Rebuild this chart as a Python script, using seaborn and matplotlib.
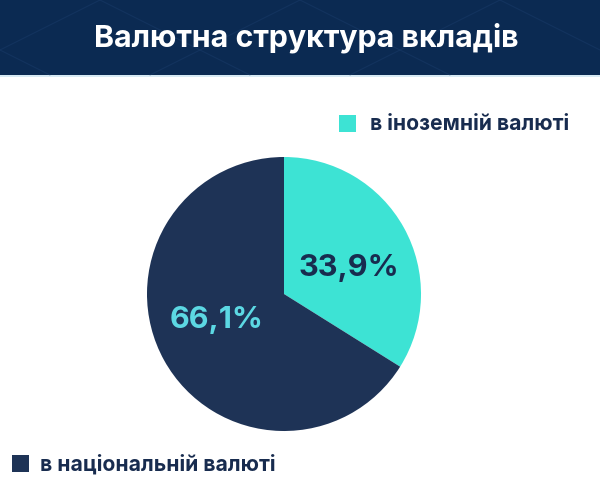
import matplotlib
matplotlib.use("Agg")
import matplotlib.pyplot as plt
import seaborn as sns
from matplotlib.patches import Rectangle
from matplotlib.lines import Line2D

sns.set_theme(style="white")
plt.rcParams['font.family'] = ['Inter', 'DejaVu Sans']

title = "Валютна структура вкладів"
categories = ["в іноземній валюті", "в національній валюті"]
values = [33.9, 66.1]
value_labels = ["33,9%", "66,1%"]
slice_colors = ["#3de3d4", "#1e3356"]
label_colors = ["#182c4f", "#5cd8e3"]

W, H = 600, 503
fig = plt.figure(figsize=(W / 100, H / 100), dpi=100)
fig.patch.set_facecolor("white")

def fx(x):
    return x / W

def fy(y):
    return 1 - y / H

# header band
fig.patches.append(Rectangle((0, fy(75)), 1, 75 / H, transform=fig.transFigure,
                             facecolor="#0b2a52", edgecolor="none", zorder=0))
fig.lines.append(Line2D([0, 1], [fy(75.5), fy(75.5)], transform=fig.transFigure,
                        color="#cfe6f2", lw=1.2, zorder=1))
# faint pattern in header
for x0 in range(-100, 700, 200):
    for sgn in (1, -1):
        fig.lines.append(Line2D([fx(x0), fx(x0 + sgn * 150)], [fy(0), fy(75)],
                                transform=fig.transFigure, color="#1c3e6c",
                                lw=0.8, alpha=0.45, zorder=1))
fig.text(fx(306), fy(38), title, ha="center", va="center", color="white",
         fontsize=21.9, fontweight="bold", zorder=3)

# pie axes
cx, cy, r = 284, 294, 137
ax = fig.add_axes([fx(cx - r), fy(cy + r), 2 * r / W, 2 * r / H])
ax.pie(values, colors=slice_colors, startangle=90, counterclock=False,
       radius=1, wedgeprops=dict(linewidth=0))
ax.set_xlim(-1, 1)
ax.set_ylim(-1, 1)
ax.set_aspect("equal")
ax.axis("off")
ax.text(0.475, 0.19, value_labels[0], ha="center", va="center",
        color=label_colors[0], fontsize=22, fontweight="bold")
ax.text(-0.495, -0.19, value_labels[1], ha="center", va="center",
        color=label_colors[1], fontsize=22, fontweight="bold")

# legends
fig.patches.append(Rectangle((fx(339), fy(132)), 17 / W, 17 / H, transform=fig.transFigure,
                             facecolor=slice_colors[0], edgecolor="none"))
fig.text(fx(370), fy(124), categories[0], ha="left", va="center",
         color="#182c4f", fontsize=15.2, fontweight="bold")
fig.patches.append(Rectangle((fx(12), fy(472)), 17 / W, 17 / H, transform=fig.transFigure,
                             facecolor=slice_colors[1], edgecolor="none"))
fig.text(fx(40), fy(464), categories[1], ha="left", va="center",
         color="#182c4f", fontsize=15.2, fontweight="bold")

fig.savefig("out.png", dpi=100, facecolor="white")
